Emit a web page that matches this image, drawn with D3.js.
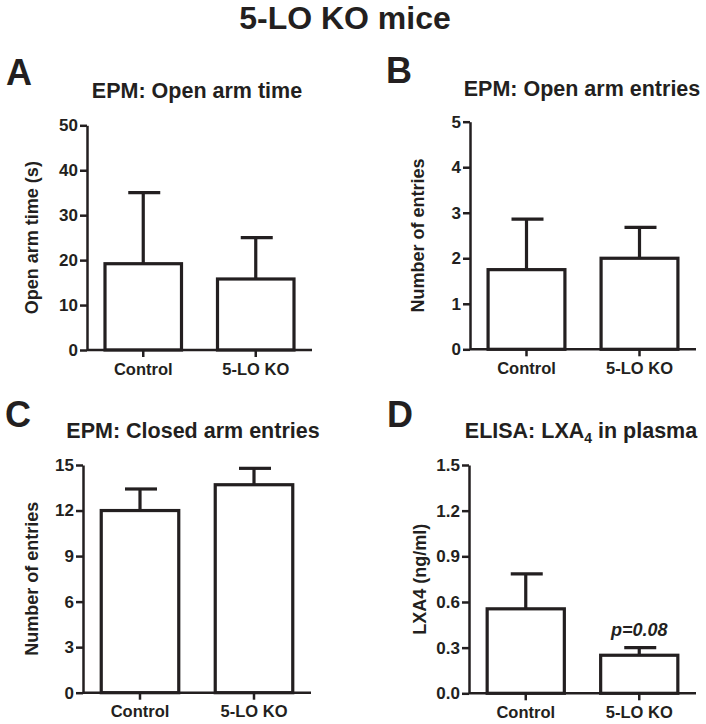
<!DOCTYPE html>
<html>
<head>
<meta charset="utf-8">
<script src="https://cdn.jsdelivr.net/npm/d3@7"></script>
<style>
  html, body { margin: 0; padding: 0; background: #fff; }
  svg { display: block; }
  text { font-family: "Liberation Sans", Arial, Helvetica, sans-serif; font-weight: bold; fill: #231f20; }
</style>
</head>
<body>
<svg id="chart" width="706" height="724"></svg>
<script>
// ---------- data ----------
const categories = ["Control", "5-LO KO"];

const openArmTimeMean = [19.2, 15.8];
const openArmTimeSem  = [15.8, 9.2];
const openArmTimeTicks = [0, 10, 20, 30, 40, 50];

const openArmEntriesMean = [1.75, 2.0];
const openArmEntriesSem  = [1.11, 0.68];
const openArmEntriesTicks = [0, 1, 2, 3, 4, 5];

const closedArmEntriesMean = [12.0, 13.7];
const closedArmEntriesSem  = [1.42, 1.08];
const closedArmEntriesTicks = [0, 3, 6, 9, 12, 15];

const lxa4Mean = [0.555, 0.25];
const lxa4Sem  = [0.23, 0.05];
const lxa4Ticks = [0.0, 0.3, 0.6, 0.9, 1.2, 1.5];

const mainTitle = "5-LO KO mice";
const panelLetters = ["A", "B", "C", "D"];
const pValueLabel = "p=0.08";

// ---------- drawing ----------
const ink = "#231f20";
const svg = d3.select("#chart");

svg.append("text").attr("x", 345).attr("y", 29).attr("text-anchor", "middle")
  .style("font-size", "32px").text(mainTitle);

const panels = [
  { letter: panelLetters[0], lx: 6, ly: 85, title: [{t: "EPM: Open arm time"}], tx: 197, ty: 98,
    ylab: "Open arm time (s)", ylx: 38,
    mean: openArmTimeMean, sem: openArmTimeSem, ticks: openArmTimeTicks, fmt: d3.format("d"),
    left: 87, right: 312, y0: 350, yTop: 125.3 },
  { letter: panelLetters[1], lx: 386, ly: 83, title: [{t: "EPM: Open arm entries"}], tx: 582, ty: 96,
    ylab: "Number of entries", ylx: 424,
    mean: openArmEntriesMean, sem: openArmEntriesSem, ticks: openArmEntriesTicks, fmt: d3.format("d"),
    left: 470, right: 696, y0: 349.3, yTop: 121.7 },
  { letter: panelLetters[2], lx: 5, ly: 427, title: [{t: "EPM: Closed arm entries"}], tx: 193, ty: 438,
    ylab: "Number of entries", ylx: 38,
    mean: closedArmEntriesMean, sem: closedArmEntriesSem, ticks: closedArmEntriesTicks, fmt: d3.format("d"),
    left: 83, right: 311, y0: 692.7, yTop: 465 },
  { letter: panelLetters[3], lx: 387, ly: 427, title: [{t: "ELISA: LXA"}, {t: "4", sub: true}, {t: " in plasma"}], tx: 581, ty: 438,
    ylab: "LXA4 (ng/ml)", ylx: 426,
    mean: lxa4Mean, sem: lxa4Sem, ticks: lxa4Ticks, fmt: d3.format(".1f"),
    left: 469, right: 696, y0: 693.3, yTop: 465, pLabel: pValueLabel }
];

panels.forEach(p => {
  const g = svg.append("g");

  g.append("text").attr("x", p.lx).attr("y", p.ly).style("font-size", "36px").text(p.letter);

  const tt = g.append("text").attr("x", p.tx).attr("y", p.ty).attr("text-anchor", "middle")
    .style("font-size", "21.5px");
  p.title.forEach(s => {
    const ts = tt.append("tspan").text(s.t);
    if (s.sub) ts.attr("dy", 5).style("font-size", "14px");
    else if (tt.selectAll("tspan").size() > 1) ts.attr("dy", -5);
  });

  const x = d3.scaleBand().domain(categories).range([p.left, p.right])
    .paddingInner(0.32).paddingOuter(0.16);
  const y = d3.scaleLinear().domain([p.ticks[0], p.ticks[p.ticks.length - 1]]).range([p.y0, p.yTop]);

  // bars
  const data = categories.map((c, i) => ({ c, m: p.mean[i], s: p.sem[i] }));
  g.selectAll("rect.bar").data(data).join("rect")
    .attr("x", d => x(d.c)).attr("width", x.bandwidth())
    .attr("y", d => y(d.m)).attr("height", d => y(0) - y(d.m))
    .attr("fill", "#fff").attr("stroke", ink).attr("stroke-width", 3.2);

  // error bars
  g.selectAll("line.err").data(data).join("line")
    .attr("x1", d => x(d.c) + x.bandwidth() / 2).attr("x2", d => x(d.c) + x.bandwidth() / 2)
    .attr("y1", d => y(d.m)).attr("y2", d => y(d.m + d.s))
    .attr("stroke", ink).attr("stroke-width", 3.2);
  g.selectAll("line.cap").data(data).join("line")
    .attr("x1", d => x(d.c) + x.bandwidth() / 2 - 15).attr("x2", d => x(d.c) + x.bandwidth() / 2 + 17)
    .attr("y1", d => y(d.m + d.s)).attr("y2", d => y(d.m + d.s))
    .attr("stroke", ink).attr("stroke-width", 3.2);

  // axes
  const ya = g.append("g").attr("transform", `translate(${p.left},0)`)
    .call(d3.axisLeft(y).tickValues(p.ticks).tickFormat(p.fmt).tickSize(7).tickSizeOuter(0).tickPadding(2));
  const xa = g.append("g").attr("transform", `translate(0,${p.y0})`)
    .call(d3.axisBottom(x).tickSize(7).tickSizeOuter(0).tickPadding(6));
  [ya, xa].forEach(a => {
    a.select(".domain").attr("stroke", ink).attr("stroke-width", 2.5);
    a.selectAll(".tick line").attr("stroke", ink).attr("stroke-width", 2.5);
    a.selectAll(".tick text").attr("fill", ink).style("font-size", "17px")
      .style("font-family", '"Liberation Sans", Arial, sans-serif').style("font-weight", "bold");
  });
  xa.selectAll(".tick text").style("font-size", "16.5px");
  xa.select(".domain").attr("d", `M${p.left},0H${p.right}`);

  // y label
  g.append("text").attr("transform", `translate(${p.ylx},${(p.y0 + p.yTop) / 2}) rotate(-90)`)
    .attr("text-anchor", "middle").style("font-size", "18px").text(p.ylab);

  if (p.pLabel) {
    const d = data[1];
    g.append("text").attr("x", x(d.c) + x.bandwidth() / 2).attr("y", y(d.m + d.s) - 12)
      .attr("text-anchor", "middle").style("font-size", "18px").style("font-style", "italic").text(p.pLabel);
  }
});
</script>
</body>
</html>
